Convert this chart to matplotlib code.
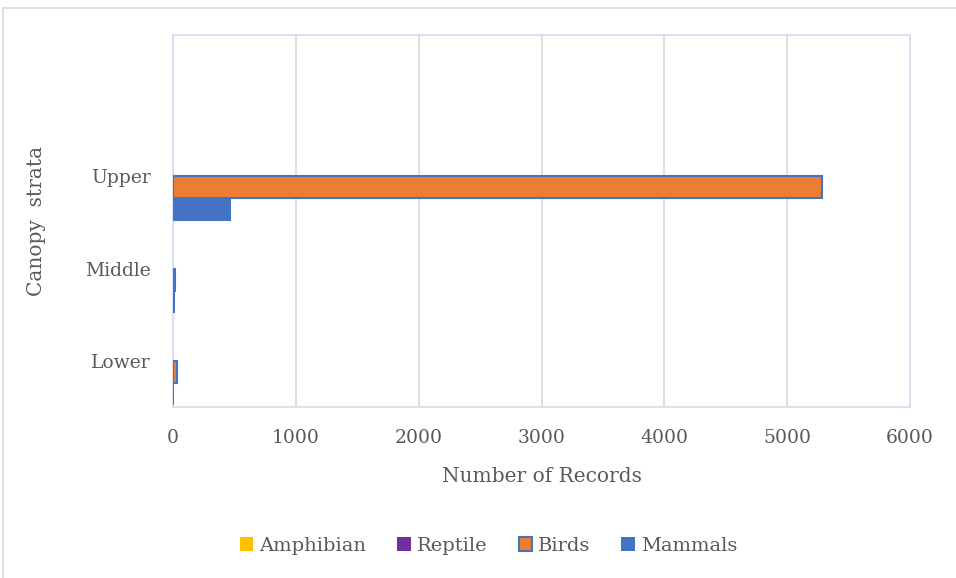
import numpy as np
import matplotlib.pyplot as plt
from matplotlib.patches import Rectangle

strata = ['Lower', 'Middle', 'Upper']
series = ['Mammals', 'Birds', 'Reptile', 'Amphibian']
amphibian = [2, 0, 0]
reptile = [1, 1, 4]
birds = [30, 20, 5280]
mammals = [8, 15, 470]

colors = {'Amphibian': '#FFC000', 'Reptile': '#7030A0',
          'Birds': '#ED7D31', 'Mammals': '#4472C4'}
values = {'Amphibian': amphibian, 'Reptile': reptile,
          'Birds': birds, 'Mammals': mammals}

plt.rcParams['font.family'] = ['DejaVu Serif']
txt = '#595959'

fig = plt.figure(figsize=(9.56, 5.78), dpi=100)
fig.patches.append(Rectangle((3/956, -0.01), 1.0, (570/578) + 0.01,
                             transform=fig.transFigure, fill=False,
                             edgecolor='#D9D9D9', lw=1.2))
ax = fig.add_axes([173/956, 171/578, 737/956, 372/578])

y = np.arange(len(strata))
h = 0.24
for i, name in enumerate(series):
    off = (i - 1.5) * h
    ec = '#4472C4' if name == 'Birds' else colors[name]
    lw = 1.5 if name == 'Birds' else 0
    ax.barh(y + off, values[name], height=h, color=colors[name],
            edgecolor=ec, linewidth=lw, label=name, zorder=3)

ax.set_xlim(0, 6000)
ax.set_ylim(-0.5, 3.53)
ax.set_xticks(range(0, 6001, 1000))
ax.set_yticks(y)
ax.set_yticklabels(strata)
ax.tick_params(length=0, labelsize=13.5, colors=txt)
ax.tick_params(axis='y', pad=16)
ax.tick_params(axis='x', pad=16)
ax.grid(axis='x', color='#D9D9D9', lw=1.2, zorder=0)
for s in ax.spines.values():
    s.set_color('#D6DCF0')
    s.set_linewidth(1.2)
ax.axvline(0, color='#D9D9D9', lw=1.5, zorder=2)

ax.set_xlabel('Number of Records', fontsize=14.5, color=txt, labelpad=14)
ax.set_ylabel('Canopy  strata', fontsize=14.5, color=txt, labelpad=28)

hs, ls = ax.get_legend_handles_labels()
order = [3, 2, 1, 0]
fig.legend([hs[i] for i in order], [ls[i] for i in order], loc='center',
           bbox_to_anchor=(0.511, 32/578), ncol=4, frameon=False,
           fontsize=14, labelcolor=txt, handlelength=0.7, handleheight=0.7,
           handletextpad=0.3, columnspacing=1.6)

fig.savefig('out.png', dpi=100)
